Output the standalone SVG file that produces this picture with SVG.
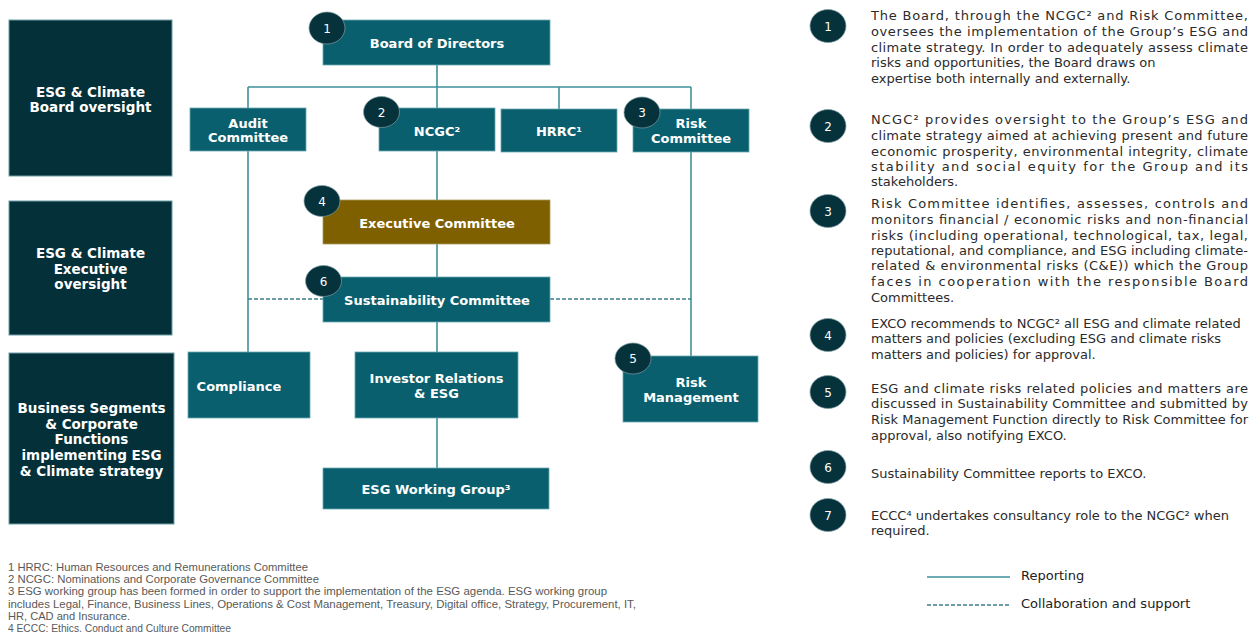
<svg xmlns="http://www.w3.org/2000/svg" width="1251" height="632" viewBox="0 0 1251 632">
<style>
.bg{fill:#ffffff}
.lbox{fill:#04303a;stroke:#6d9ea6;stroke-width:1}
.node{fill:#0a5f6e;stroke:#6aa8b1;stroke-width:0.8}
.exco{fill:#7f6000;stroke:#a89a5e;stroke-width:0.8}
.lt{font-family:"DejaVu Sans",Verdana,sans-serif;font-weight:bold;font-size:13.5px;fill:#ffffff;text-anchor:middle}
.nt{font-family:"DejaVu Sans",Verdana,sans-serif;font-weight:bold;font-size:13px;fill:#ffffff;text-anchor:middle}
.badge{fill:#06323c;stroke:#7f9ea3;stroke-width:0.7}
.bn{font-family:"DejaVu Sans",Verdana,sans-serif;font-size:12px;fill:#ffffff;text-anchor:middle}
.rep{fill:none;stroke:#3e919c;stroke-width:1.6}
.col{fill:none;stroke:#3e7f8a;stroke-width:1.4;stroke-dasharray:4 2}
.pt{font-family:"DejaVu Sans",Verdana,sans-serif;font-size:13px;fill:#2b2b2b}
.fn{font-family:"Liberation Sans Narrow","Liberation Sans",Arial,sans-serif;font-size:11px;fill:#595959}
.lg{font-family:"DejaVu Sans",Verdana,sans-serif;font-size:13px;fill:#222222}
</style>
<rect class="bg" x="0" y="0" width="1251" height="632"/>

<g id="lane-board">
<rect class="lbox" x="9" y="20" width="163" height="156"/>
<text class="lt" x="90.5" y="97">ESG &amp; Climate</text>
<text class="lt" x="90.5" y="112">Board oversight</text>
</g>
<g id="lane-exec">
<rect class="lbox" x="9" y="201" width="163" height="134"/>
<text class="lt" x="90.5" y="258">ESG &amp; Climate</text>
<text class="lt" x="90.5" y="274">Executive</text>
<text class="lt" x="90.5" y="289">oversight</text>
</g>
<g id="lane-business">
<rect class="lbox" x="9" y="353" width="165" height="171"/>
<text class="lt" x="91.5" y="413">Business Segments</text>
<text class="lt" x="91.5" y="429">&amp; Corporate</text>
<text class="lt" x="91.5" y="444">Functions</text>
<text class="lt" x="91.5" y="460">implementing ESG</text>
<text class="lt" x="91.5" y="476">&amp; Climate strategy</text>
</g>

<g id="connectors">
<path class="rep" d="M437 65 V108"/>
<path class="rep" d="M248 87 H691"/>
<path class="rep" d="M248 87 V108"/>
<path class="rep" d="M248 151 V352"/>
<path class="rep" d="M559 87 V109"/>
<path class="rep" d="M691 87 V109"/>
<path class="rep" d="M691 152 V356"/>
<path class="rep" d="M437 151 V200"/>
<path class="rep" d="M437 244 V277"/>
<path class="rep" d="M437 322 V352"/>
<path class="rep" d="M437 418 V468"/>
<path class="col" d="M248 299 H323"/>
<path class="col" d="M550 299 H691"/>
</g>

<g id="board">
<rect class="node" x="323" y="20" width="227" height="45"/>
<text class="nt" x="437" y="48">Board of Directors</text>
<ellipse class="badge" cx="327" cy="28" rx="18" ry="16"/>
<text class="bn" x="327" y="32.5">1</text>
</g>
<g id="audit">
<rect class="node" x="190" y="108" width="116" height="43"/>
<text class="nt" x="248" y="128">Audit</text>
<text class="nt" x="248" y="142">Committee</text>
</g>
<g id="ncgc">
<rect class="node" x="379" y="108" width="116" height="43"/>
<text class="nt" x="437" y="136">NCGC²</text>
<ellipse class="badge" cx="381.5" cy="112" rx="18" ry="15.5"/>
<text class="bn" x="381.5" y="116.5">2</text>
</g>
<g id="hrrc">
<rect class="node" x="501" y="109" width="116" height="43"/>
<text class="nt" x="559" y="136">HRRC¹</text>
</g>
<g id="risk-committee">
<rect class="node" x="633" y="109" width="116" height="43"/>
<text class="nt" x="691" y="128">Risk</text>
<text class="nt" x="691" y="143">Committee</text>
<ellipse class="badge" cx="642" cy="112.5" rx="18" ry="15.5"/>
<text class="bn" x="642" y="117">3</text>
</g>
<g id="executive-committee">
<rect class="exco" x="323" y="200" width="227" height="44"/>
<text class="nt" x="437" y="228">Executive Committee</text>
<ellipse class="badge" cx="322" cy="201" rx="18" ry="15.5"/>
<text class="bn" x="322" y="205.5">4</text>
</g>
<g id="sustainability-committee">
<rect class="node" x="323" y="277" width="227" height="45"/>
<text class="nt" x="437" y="305">Sustainability Committee</text>
<ellipse class="badge" cx="323.5" cy="281" rx="18" ry="15.5"/>
<text class="bn" x="323.5" y="285.5">6</text>
</g>
<g id="compliance">
<rect class="node" x="188" y="352" width="122" height="66"/>
<text class="nt" x="239" y="391">Compliance</text>
</g>
<g id="investor-relations">
<rect class="node" x="355" y="352" width="163" height="66"/>
<text class="nt" x="436.5" y="383">Investor Relations</text>
<text class="nt" x="436.5" y="398">&amp; ESG</text>
</g>
<g id="risk-management">
<rect class="node" x="623" y="356" width="135" height="66"/>
<text class="nt" x="691" y="387">Risk</text>
<text class="nt" x="691" y="402">Management</text>
<ellipse class="badge" cx="633" cy="358.5" rx="18" ry="15.5"/>
<text class="bn" x="633" y="363">5</text>
</g>
<g id="esg-working-group">
<rect class="node" x="323" y="468" width="226" height="41"/>
<text class="nt" x="436" y="494">ESG Working Group³</text>
</g>

<g id="note-1">
<ellipse class="badge" cx="828" cy="26" rx="18" ry="16.5"/>
<text class="bn" x="828" y="30.5">1</text>
<text class="pt" x="871" y="20" textLength="377" lengthAdjust="spacing">The Board, through the NCGC² and Risk Committee,</text>
<text class="pt" x="871" y="36" textLength="377" lengthAdjust="spacing">oversees the implementation of the Group’s ESG and</text>
<text class="pt" x="871" y="51.5" textLength="377" lengthAdjust="spacing">climate strategy. In order to adequately assess climate</text>
<text class="pt" x="871" y="67">risks and opportunities, the Board draws on</text>
<text class="pt" x="871" y="82.5">expertise both internally and externally.</text>
</g>
<g id="note-2">
<ellipse class="badge" cx="828" cy="126" rx="18" ry="16.5"/>
<text class="bn" x="828" y="130.5">2</text>
<text class="pt" x="871" y="124" textLength="377" lengthAdjust="spacing">NCGC² provides oversight to the Group’s ESG and</text>
<text class="pt" x="871" y="140" textLength="377" lengthAdjust="spacing">climate strategy aimed at achieving present and future</text>
<text class="pt" x="871" y="156" textLength="377" lengthAdjust="spacing">economic prosperity, environmental integrity, climate</text>
<text class="pt" x="871" y="171" textLength="377" lengthAdjust="spacing">stability and social equity for the Group and its</text>
<text class="pt" x="871" y="186">stakeholders.</text>
</g>
<g id="note-3">
<ellipse class="badge" cx="828" cy="211" rx="18" ry="16.5"/>
<text class="bn" x="828" y="215.5">3</text>
<text class="pt" x="871" y="208" textLength="377" lengthAdjust="spacing">Risk Committee identifies, assesses, controls and</text>
<text class="pt" x="871" y="224" textLength="377" lengthAdjust="spacing">monitors financial / economic risks and non-financial</text>
<text class="pt" x="871" y="240" textLength="377" lengthAdjust="spacing">risks (including operational, technological, tax, legal,</text>
<text class="pt" x="871" y="255" textLength="377" lengthAdjust="spacing">reputational, and compliance, and ESG including climate-</text>
<text class="pt" x="871" y="270" textLength="377" lengthAdjust="spacing">related &amp; environmental risks (C&amp;E)) which the Group</text>
<text class="pt" x="871" y="286" textLength="377" lengthAdjust="spacing">faces in cooperation with the responsible Board</text>
<text class="pt" x="871" y="302">Committees.</text>
</g>
<g id="note-4">
<ellipse class="badge" cx="828" cy="335" rx="18" ry="16.5"/>
<text class="bn" x="828" y="339.5">4</text>
<text class="pt" x="871" y="328">EXCO recommends to NCGC² all ESG and climate related</text>
<text class="pt" x="871" y="343">matters and policies (excluding ESG and climate risks</text>
<text class="pt" x="871" y="359">matters and policies) for approval.</text>
</g>
<g id="note-5">
<ellipse class="badge" cx="828" cy="392" rx="18" ry="16.5"/>
<text class="bn" x="828" y="396.5">5</text>
<text class="pt" x="871" y="393" textLength="377" lengthAdjust="spacing">ESG and climate risks related policies and matters are</text>
<text class="pt" x="871" y="408" textLength="377" lengthAdjust="spacing">discussed in Sustainability Committee and submitted by</text>
<text class="pt" x="871" y="424" textLength="377" lengthAdjust="spacing">Risk Management Function directly to Risk Committee for</text>
<text class="pt" x="871" y="440">approval, also notifying EXCO.</text>
</g>
<g id="note-6">
<ellipse class="badge" cx="828" cy="467" rx="18" ry="16.5"/>
<text class="bn" x="828" y="471.5">6</text>
<text class="pt" x="871" y="478">Sustainability Committee reports to EXCO.</text>
</g>
<g id="note-7">
<ellipse class="badge" cx="828" cy="515" rx="18" ry="16.5"/>
<text class="bn" x="828" y="519.5">7</text>
<text class="pt" x="871" y="520">ECCC⁴ undertakes consultancy role to the NCGC² when</text>
<text class="pt" x="871" y="535">required.</text>
</g>

<g id="footnotes">
<text class="fn" x="8" y="571" textLength="300" lengthAdjust="spacingAndGlyphs">1 HRRC: Human Resources and Remunerations Committee</text>
<text class="fn" x="8" y="583" textLength="311" lengthAdjust="spacingAndGlyphs">2 NCGC: Nominations and Corporate Governance Committee</text>
<text class="fn" x="8" y="595" textLength="599" lengthAdjust="spacingAndGlyphs">3 ESG working group has been formed in  order to support the implementation of the ESG agenda. ESG working group</text>
<text class="fn" x="8" y="608" textLength="628" lengthAdjust="spacingAndGlyphs">includes Legal, Finance, Business Lines, Operations &amp; Cost Management, Treasury, Digital office, Strategy, Procurement, IT,</text>
<text class="fn" x="8" y="620" textLength="122" lengthAdjust="spacingAndGlyphs">HR, CAD and Insurance.</text>
<text class="fn" x="8" y="632" textLength="223" lengthAdjust="spacingAndGlyphs">4 ECCC: Ethics, Conduct and Culture Committee</text>
</g>

<g id="legend">
<path class="rep" d="M927 577 H1010"/>
<text class="lg" x="1021" y="580">Reporting</text>
<path class="col" d="M927 605 H1010"/>
<text class="lg" x="1021" y="608">Collaboration and support</text>
</g>
</svg>
